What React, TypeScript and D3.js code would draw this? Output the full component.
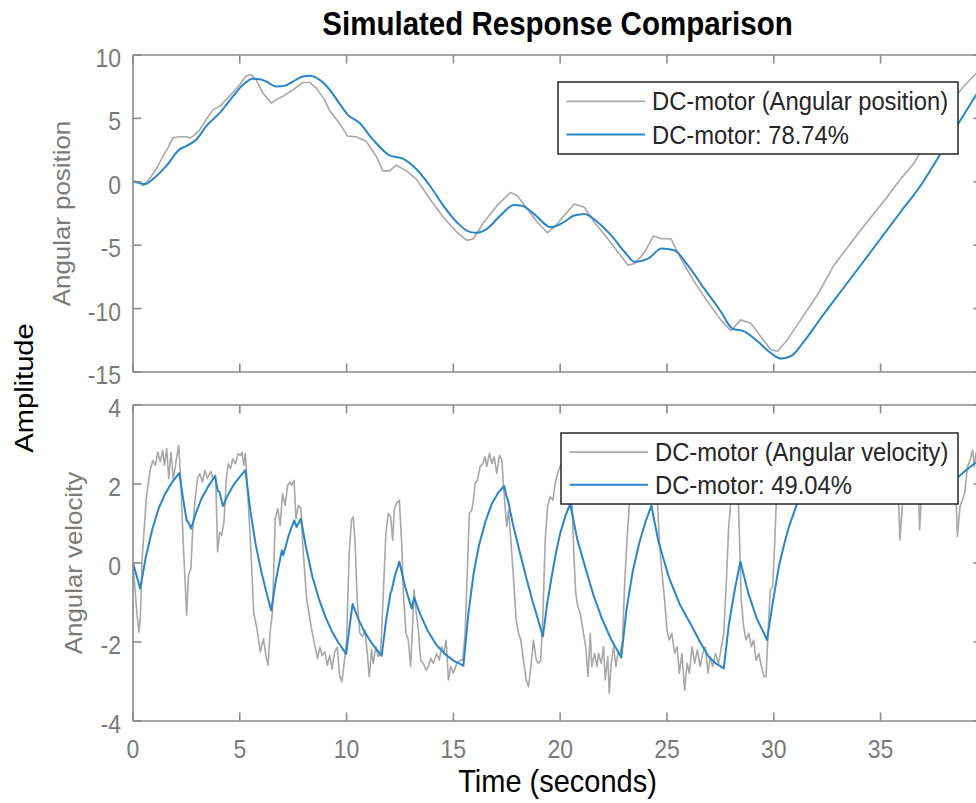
import React from "react";
import * as d3 from "d3";

// ---------------- DATA ----------------
const titleText = "Simulated Response Comparison";
const xTicks = [0, 5, 10, 15, 20, 25, 30, 35];
const posTicks = [-15, -10, -5, 0, 5, 10];
const velTicks = [-4, -2, 0, 2, 4];

const posLegend = ["DC-motor (Angular position)", "DC-motor: 78.74%"];
const velLegend = ["DC-motor (Angular velocity)", "DC-motor: 49.04%"];

// Angular position – measured (gray)
const posMeasured: [number, number][] = [
  [0, 0.08], [0.24, 0.0], [0.47, -0.31], [0.7, 0.08], [1.09, 0.99], [1.41, 2.04], [1.64, 2.69],
  [1.87, 3.47], [2.18, 3.55], [2.5, 3.55], [2.66, 3.45], [2.81, 3.6], [3.12, 4.07], [3.43, 4.91],
  [3.75, 5.69], [4.06, 5.95], [4.36, 6.48], [4.68, 7.05], [4.99, 7.65], [5.31, 8.36], [5.53, 8.43],
  [5.77, 8.04], [6.08, 7.0], [6.48, 6.21], [6.71, 6.48], [7.02, 6.74], [7.49, 7.26], [7.96, 7.83],
  [8.27, 7.83], [8.58, 7.39], [8.97, 6.48], [9.21, 5.6], [9.65, 4.65], [10.05, 3.6], [10.44, 3.55],
  [10.91, 3.21], [11.38, 2.04], [11.7, 0.86], [12.01, 0.86], [12.33, 1.31], [12.8, 0.86],
  [13.27, 0.21], [13.9, -1.36], [14.53, -2.79], [15.16, -3.97], [15.63, -4.62], [15.94, -4.49],
  [16.42, -3.19], [17.04, -1.88], [17.67, -0.84], [17.99, -1.1], [18.46, -2.14], [18.93, -3.19],
  [19.4, -4.02], [19.72, -3.58], [20.19, -2.66], [20.66, -1.75], [21.13, -2.01], [21.6, -3.19],
  [22.23, -4.49], [22.7, -5.54], [23.18, -6.58], [23.49, -6.45], [23.96, -5.54], [24.36, -4.28],
  [24.75, -4.49], [25.19, -4.49], [25.65, -6.06], [26.28, -7.89], [26.9, -9.45], [27.52, -10.89],
  [27.99, -11.75], [28.46, -10.89], [28.93, -11.15], [29.39, -12.19], [29.86, -13.24],
  [30.17, -13.37], [30.64, -12.45], [31.26, -10.89], [32.04, -8.93], [32.82, -6.58], [33.44, -5.2],
  [34.07, -3.8], [34.69, -2.5], [35.31, -1.2], [35.93, 0.21], [36.56, 1.45], [37.02, 2.82],
  [37.65, 4.65], [38.27, 6.21], [38.89, 7.52], [39.49, 8.56], [39.75, 9.0],
];

// Angular position – model (blue)
const posModel: [number, number][] = [
  [0, 0], [0.31, -0.1], [0.55, -0.18], [0.93, 0.21], [1.56, 1.25], [2.18, 2.56], [2.5, 2.82],
  [2.97, 3.34], [3.43, 4.39], [4.06, 5.43], [4.68, 6.74], [5.15, 7.65], [5.61, 8.12], [5.93, 8.09],
  [6.24, 7.91], [6.71, 7.52], [7.1, 7.57], [7.49, 7.91], [7.96, 8.3], [8.27, 8.36], [8.74, 8.04],
  [9.21, 7.26], [9.65, 6.21], [10.05, 5.3], [10.6, 4.65], [11.23, 3.34], [12.01, 2.09],
  [12.64, 1.83], [13.27, 0.99], [13.9, -0.31], [14.53, -1.88], [15.16, -3.19], [15.79, -3.97],
  [16.1, -4.02], [16.57, -3.71], [17.2, -2.66], [17.83, -1.83], [18.22, -1.88], [18.77, -2.53],
  [19.56, -3.58], [20.03, -3.32], [20.66, -2.66], [21.13, -2.53], [21.76, -3.19], [22.39, -4.23],
  [23.02, -5.54], [23.49, -6.32], [24.12, -6.06], [24.75, -5.27], [25.34, -5.4], [25.97, -6.58],
  [26.74, -8.41], [27.52, -10.23], [28.07, -11.59], [28.61, -11.8], [29.24, -12.58],
  [29.86, -13.5], [30.33, -13.94], [30.79, -13.76], [31.42, -12.58], [32.2, -10.76],
  [33.13, -8.67], [34.07, -6.58], [35, -4.49], [35.93, -2.4], [36.87, -0.31], [37.65, 1.78],
  [38.43, 4.0], [39.05, 5.7], [39.75, 7.6],
];

// Angular velocity – measured (gray)
const velMeasured: [number, number][] = [
  [0, 0], [0.08, -0.57], [0.19, -1.32], [0.28, -1.75], [0.34, -1.41], [0.43, 0.11], [0.62, 1.63],
  [0.8, 2.35], [0.93, 2.6], [1.05, 2.47], [1.16, 2.81], [1.27, 2.56], [1.39, 2.85], [1.47, 2.47],
  [1.58, 2.89], [1.67, 2.14], [1.78, 2.81], [1.89, 2.09], [2.01, 2.56], [2.14, 2.98], [2.24, 2.05],
  [2.35, 0.53], [2.45, -0.57], [2.51, -1.32], [2.6, -0.31], [2.71, -0.14], [2.79, 0.78],
  [2.91, 1.63], [3.02, 2.14], [3.13, 2.26], [3.25, 2.05], [3.37, 2.35], [3.48, 2.14], [3.64, 2.32],
  [3.75, 2.14], [3.87, 2.22], [3.96, 0.28], [4.06, 0.78], [4.15, 0.7], [4.26, 1.04], [4.37, 2.14],
  [4.46, 2.51], [4.57, 2.39], [4.67, 2.64], [4.8, 2.51], [4.92, 2.77], [5.03, 2.72], [5.11, 2.81],
  [5.19, 2.47], [5.26, 2.77], [5.34, 2.05], [5.5, 0.53], [5.65, -1.24], [5.8, -1.66], [5.96, -2.25],
  [6.11, -1.92], [6.22, -2.34], [6.32, -2.59], [6.42, -1.75], [6.53, -1.24], [6.66, 1.12],
  [6.78, 1.38], [6.89, 0.95], [7.0, 1.76], [7.12, 1.46], [7.24, 1.97], [7.35, 2.05], [7.43, 1.97],
  [7.54, 2.09], [7.63, 1.12], [7.74, 1.46], [7.86, 1.38], [7.97, 0.28], [8.13, -0.9], [8.28, -1.41],
  [8.39, -1.75], [8.51, -2.08], [8.64, -2.42], [8.75, -2.13], [8.85, -2.34], [8.98, -2.25],
  [9.1, -2.59], [9.21, -2.34], [9.32, -2.68], [9.44, -2.25], [9.57, -2.13], [9.67, -2.84],
  [9.78, -3.01], [9.91, -2.42], [10.0, -1.95], [10.12, 0.24], [10.23, 1.09], [10.31, 1.17],
  [10.39, 0.58], [10.5, -0.94], [10.62, -1.78], [10.75, -1.86], [10.86, -1.7], [10.97, -2.29],
  [11.06, -2.88], [11.17, -2.2], [11.25, -2.54], [11.37, -2.12], [11.48, -2.37], [11.59, -2.29],
  [11.72, -0.77], [11.84, 0.75], [11.95, 1.26], [12.06, 1.17], [12.16, 0.58], [12.23, 1.34],
  [12.34, 1.51], [12.47, 1.59], [12.58, 0.5], [12.66, -0.77], [12.78, -1.78], [12.89, -1.95],
  [13.0, -2.62], [13.09, -1.61], [13.16, -0.68], [13.25, -1.19], [13.36, -1.7], [13.47, -2.46],
  [13.59, -2.54], [13.72, -2.71], [13.83, -2.62], [13.94, -2.41], [14.06, -2.54], [14.22, -2.29],
  [14.34, -2.46], [14.45, -2.12], [14.56, -2.29], [14.66, -1.95], [14.77, -2.96], [14.88, -2.62],
  [15.0, -2.79], [15.16, -2.54], [15.31, -2.46], [15.44, -2.46], [15.55, -1.78], [15.66, -0.09],
  [15.75, 1.26], [15.86, 1.34], [15.94, 1.59], [16.02, 2.02], [16.13, 2.1], [16.25, 2.44],
  [16.38, 2.52], [16.48, 2.69], [16.56, 2.44], [16.69, 2.78], [16.8, 2.52], [16.91, 2.69],
  [17.03, 2.27], [17.16, 2.73], [17.27, 2.61], [17.34, 2.02], [17.42, 1.43], [17.5, 0.92],
  [17.58, 1.34], [17.69, 0.58], [17.81, -0.35], [17.94, -1.44], [18.05, -1.78], [18.16, -1.95],
  [18.28, -2.46], [18.41, -2.96], [18.52, -3.13], [18.63, -2.62], [18.75, -1.95], [18.88, -2.46],
  [18.98, -2.54], [19.09, -2.46], [19.19, -1.36], [19.3, 0.58], [19.41, 1.43], [19.53, 1.68],
  [19.66, 1.59], [19.77, 2.02], [19.88, 2.27], [20.0, 2.44], [20.15, 2.7], [20.3, 2.5],
  [20.45, 2.8], [20.55, 1.8], [20.63, 0.33], [20.73, -0.77], [20.83, -1.11], [20.94, -1.27],
  [21.09, -1.78], [21.2, -2.12], [21.3, -2.88], [21.41, -1.78], [21.48, -2.62], [21.61, -2.29],
  [21.72, -2.62], [21.8, -2.29], [21.92, -2.54], [22.03, -2.12], [22.11, -2.96], [22.23, -2.37],
  [22.3, -3.3], [22.39, -2.54], [22.5, -2.12], [22.61, -2.62], [22.7, -2.29], [22.81, -2.29],
  [22.92, -1.95], [23.02, -0.51], [23.13, 0.58], [23.23, 1.43], [23.35, 2.3], [23.5, 2.6],
  [23.7, 2.4], [23.9, 2.8], [24.1, 2.5], [24.3, 2.75], [24.5, 2.2], [24.64, 0.58], [24.77, -0.26],
  [24.89, -0.94], [25.0, -1.7], [25.11, -1.95], [25.23, -1.78], [25.36, -2.29], [25.47, -2.12],
  [25.58, -2.79], [25.7, -2.29], [25.83, -3.22], [25.94, -2.54], [26.05, -2.79], [26.17, -2.12],
  [26.3, -2.54], [26.42, -2.2], [26.56, -2.62], [26.67, -2.29], [26.8, -2.12], [26.92, -2.79],
  [27.03, -2.37], [27.14, -2.62], [27.27, -2.29], [27.42, -2.54], [27.55, -2.12], [27.66, -1.78],
  [27.77, -0.6], [27.89, 0.92], [28.0, 1.59], [28.1, 2.5], [28.2, 2.8], [28.3, 2.2], [28.39, 0.75],
  [28.48, -0.94], [28.59, -1.61], [28.7, -1.95], [28.83, -1.78], [28.95, -2.12], [29.06, -1.95],
  [29.17, -2.46], [29.3, -2.29], [29.42, -2.62], [29.55, -2.88], [29.64, -2.88], [29.73, -1.78],
  [29.84, -0.68], [29.95, -0.6], [30.05, 0.58], [30.11, 1.43], [30.2, 2.0], [30.4, 2.6],
  [30.7, 2.5], [31.0, 2.8], [31.4, 2.4], [31.8, 2.7], [32.2, 2.5], [32.6, 2.9], [33.0, 2.4],
  [33.4, 2.7], [33.8, 2.5], [34.2, 2.8], [34.6, 2.3], [35.0, 2.7], [35.4, 2.5], [35.75, 2.6],
  [35.84, 1.6], [35.91, 0.58], [36.04, 1.6], [36.2, 2.5], [36.5, 2.7], [36.75, 2.3], [36.83, 0.84],
  [36.92, 1.7], [37.1, 2.6], [37.4, 2.4], [37.7, 2.8], [38.0, 2.5], [38.3, 2.7], [38.5, 2.2],
  [38.6, 0.67], [38.72, 1.43], [38.83, 1.6], [38.94, 1.76], [39.07, 2.44], [39.2, 2.61],
  [39.31, 2.86], [39.39, 2.44], [39.46, 2.78], [39.75, 2.6],
];

// Angular velocity – model (blue)
const velModel: [number, number][] = [
  [0, 0], [0.34, -0.65], [0.6, 0.15], [0.9, 0.85], [1.2, 1.38], [1.5, 1.75], [1.8, 2.02],
  [2.17, 2.28], [2.34, 1.65], [2.51, 1.08], [2.6, 1.02], [2.72, 0.87], [2.95, 1.27], [3.2, 1.62],
  [3.5, 1.92], [3.84, 2.2], [3.97, 1.82], [4.05, 1.8], [4.21, 1.44], [4.45, 1.73], [4.7, 1.97],
  [5.0, 2.18], [5.26, 2.35], [5.5, 1.3], [5.75, 0.45], [6.0, -0.2], [6.25, -0.75], [6.47, -1.2],
  [6.7, -0.4], [6.97, 0.32], [7.04, 0.2], [7.3, 0.72], [7.55, 1.08], [7.66, 0.91], [7.86, 1.12],
  [8.1, 0.4], [8.4, -0.35], [8.7, -0.9], [9.0, -1.35], [9.3, -1.72], [9.6, -2.0], [9.98, -2.3],
  [10.13, -1.65], [10.28, -1.04], [10.55, -1.42], [10.85, -1.75], [11.2, -2.05], [11.64, -2.35],
  [11.85, -1.45], [12.06, -0.75], [12.1, -0.72], [12.25, -0.35], [12.47, 0.03], [12.75, -0.62],
  [13.05, -1.15], [13.16, -0.87], [13.45, -1.3], [13.8, -1.72], [14.2, -2.07], [14.6, -2.3],
  [15.0, -2.47], [15.47, -2.6], [15.7, -1.3], [15.95, -0.25], [16.2, 0.45], [16.5, 1.05],
  [16.8, 1.5], [17.1, 1.78], [17.38, 1.95], [17.5, 1.65], [17.55, 1.6], [17.8, 0.95], [18.1, 0.3],
  [18.4, -0.35], [18.7, -0.95], [19.0, -1.5], [19.19, -1.86], [19.4, -1.0], [19.6, -0.35],
  [19.8, 0.25], [20.0, 0.75], [20.25, 1.2], [20.47, 1.5], [20.8, 0.6], [21.17, -0.1], [21.55, -0.8],
  [21.95, -1.4], [22.4, -1.95], [22.86, -2.39], [23.1, -1.2], [23.4, -0.2], [23.7, 0.5],
  [24.0, 1.05], [24.27, 1.45], [24.6, 0.55], [25.08, -0.35], [25.6, -1.05], [26.17, -1.61],
  [26.6, -2.05], [26.95, -2.37], [27.3, -2.55], [27.66, -2.67], [27.9, -1.55], [28.2, -0.6],
  [28.44, 0.03], [28.8, -0.75], [29.2, -1.4], [29.69, -1.95], [29.76, -1.68], [30.0, -0.85],
  [30.24, -0.09], [30.5, 0.5], [30.71, 0.92], [31.1, 1.51], [31.5, 1.9], [32.0, 2.2], [32.6, 2.38],
  [33.5, 2.45], [36.0, 2.45], [37.6, 2.3], [38.2, 2.08], [38.62, 2.17], [39.0, 2.35], [39.4, 2.52],
  [39.75, 2.62],
];

// ---------------- LAYOUT ----------------
const W = 976;
const H = 803;
const FONT = "'Liberation Sans', Arial, Helvetica, sans-serif";
const AX_COLOR = "#8a8a8a";
const TICK_TEXT = "#7a7a7a";
const GRAY = "#a8a8a8";
const BLUE = "#2a86c8";
const STRETCH = 1.1;

const x = d3.scaleLinear().domain([0, 39.75]).range([133, 982]);
const yPos = d3.scaleLinear().domain([-15, 10]).range([372, 55]);
const yVel = d3.scaleLinear().domain([-4, 4]).range([721, 405]);

function T(props: {
  x: number; y: number; size: number; anchor?: string; fill?: string; weight?: string | number;
  rotate?: boolean; children: React.ReactNode;
}) {
  const { x: tx, y: ty, size, anchor = "start", fill = "#000", weight = "normal", rotate = false } = props;
  const tr = rotate
    ? `translate(${tx},${ty}) rotate(-90) scale(${STRETCH},1)`
    : `translate(${tx},${ty}) scale(1,${STRETCH})`;
  return (
    <text transform={tr} fontSize={size} fontFamily={FONT} textAnchor={anchor as any} fill={fill} fontWeight={weight as any}>
      {props.children}
    </text>
  );
}

function Panel(props: {
  yScale: d3.ScaleLinear<number, number>; ticks: number[]; measured: [number, number][];
  model: [number, number][]; smoothModel: boolean; legend: string[];
  legendBox: [number, number, number, number];
  ylabel: string; ylabelX: number; id: string; showXLabels: boolean;
}) {
  const { yScale, ticks, measured, model, smoothModel, legend, legendBox, ylabel, ylabelX, id, showXLabels } = props;
  const [x0, x1] = x.range();
  const [yb, yt] = yScale.range();
  const lineLin = d3.line<[number, number]>().x((d) => x(d[0])).y((d) => yScale(d[1])).curve(d3.curveLinear);
  const lineSmooth = d3.line<[number, number]>().x((d) => x(d[0])).y((d) => yScale(d[1])).curve(d3.curveMonotoneX);
  const tl = 8.5;
  const [lx, ly, lw, lh] = legendBox;
  const ycenter = (yb + yt) / 2;
  return (
    <g>
      <defs>
        <clipPath id={id}>
          <rect x={x0} y={yt} width={x1 - x0} height={yb - yt} />
        </clipPath>
      </defs>
      <g clipPath={`url(#${id})`} fill="none" strokeLinejoin="round">
        <path d={lineLin(measured) || ""} stroke={GRAY} strokeWidth={1.6} />
        <path d={(smoothModel ? lineSmooth(model) : lineLin(model)) || ""} stroke={BLUE} strokeWidth={2} />
      </g>
      <g stroke={AX_COLOR} strokeWidth={1.6} fill="none">
        <line x1={x0} x2={x0} y1={yt} y2={yb} />
        <line x1={x1} x2={x1} y1={yt} y2={yb} />
        <line x1={x0} x2={x1} y1={yt} y2={yt} />
        <line x1={x0} x2={x1} y1={yb} y2={yb} />
        {xTicks.map((t) => (
          <g key={"xt" + t}>
            <line x1={x(t)} x2={x(t)} y1={yb} y2={yb - tl} />
            <line x1={x(t)} x2={x(t)} y1={yt} y2={yt + tl} />
          </g>
        ))}
        {ticks.map((t) => (
          <g key={"yt" + t}>
            <line x1={x0} x2={x0 + tl} y1={yScale(t)} y2={yScale(t)} />
            <line x1={x1} x2={x1 - tl} y1={yScale(t)} y2={yScale(t)} />
          </g>
        ))}
      </g>
      {ticks.map((t) => (
        <T key={"yl" + t} x={121} y={yScale(t) + 12} size={23} anchor="end" fill={TICK_TEXT}>
          {String(t)}
        </T>
      ))}
      {showXLabels &&
        xTicks.map((t) => (
          <T key={"xl" + t} x={x(t)} y={yb + 37} size={23} anchor="middle" fill={TICK_TEXT}>
            {String(t)}
          </T>
        ))}
      <T x={ylabelX} y={ycenter} size={23.5} anchor="middle" fill={TICK_TEXT} rotate>
        {ylabel}
      </T>
      <rect x={lx} y={ly} width={lw} height={lh} fill="#fff" stroke="#262626" strokeWidth={1.5} />
      <line x1={lx + 8.5} x2={lx + 87} y1={ly + lh * 0.27} y2={ly + lh * 0.27} stroke={GRAY} strokeWidth={1.8} />
      <line x1={lx + 8.5} x2={lx + 87} y1={ly + lh * 0.73} y2={ly + lh * 0.73} stroke={BLUE} strokeWidth={2} />
      <T x={lx + 94} y={ly + lh * 0.27 + 9} size={23.8} fill="#262626">{legend[0]}</T>
      <T x={lx + 94} y={ly + lh * 0.73 + 9} size={23.8} fill="#262626">{legend[1]}</T>
    </g>
  );
}

export default function App() {
  React.useEffect(() => {
    document.body.style.margin = "0";
  }, []);
  const cx = (x.range()[0] + x.range()[1]) / 2;
  return (
    <svg width={W} height={H} viewBox={`0 0 ${W} ${H}`} style={{ position: "absolute", left: 0, top: 0, background: "#fff", overflow: "hidden" }}>
      <rect x={0} y={0} width={W} height={H} fill="#fff" />
      <T x={cx} y={35} size={29.5} anchor="middle" weight="bold" fill="#000">{titleText}</T>
      <Panel yScale={yPos} ticks={posTicks} measured={posMeasured} model={posModel} smoothModel={true} legend={posLegend}
        legendBox={[558, 82, 400, 72]} ylabel="Angular position" ylabelX={70} id="clipTop" showXLabels={false} />
      <Panel yScale={yVel} ticks={velTicks} measured={velMeasured} model={velModel} smoothModel={false} legend={velLegend}
        legendBox={[561, 433, 397, 71]} ylabel="Angular velocity" ylabelX={82} id="clipBot" showXLabels={true} />
      <T x={33} y={388} size={26.5} anchor="middle" fill="#000" rotate>Amplitude</T>
      <T x={cx} y={792} size={29} anchor="middle" fill="#000">Time (seconds)</T>
    </svg>
  );
}
